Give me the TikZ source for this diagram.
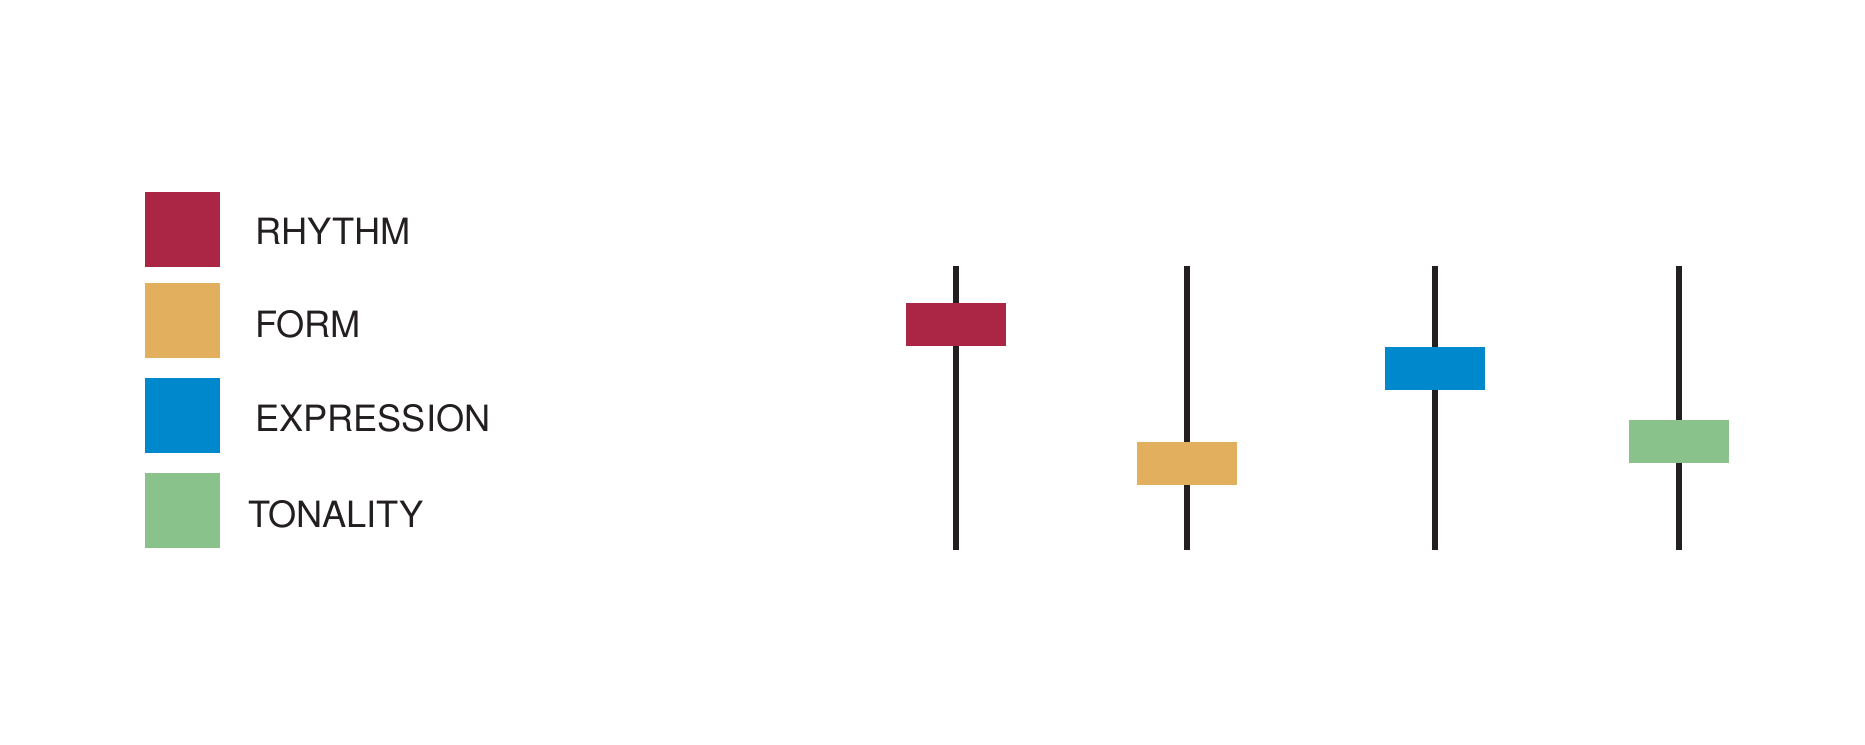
\documentclass[tikz,border=0pt]{standalone}
\usepackage{fontspec}
\setmainfont{TeX Gyre Heros}
\usetikzlibrary{calc}
\definecolor{rhythmred}{RGB}{171,38,69}
\definecolor{formgold}{RGB}{226,175,95}
\definecolor{exprblue}{RGB}{0,136,204}
\definecolor{tonegreen}{RGB}{138,194,140}
\definecolor{ink}{RGB}{35,31,32}

\begin{document}
\begin{tikzpicture}
[x=1pt,y=-1pt,every node/.style={rectangle,inner sep=0pt,outer sep=0pt},
 key/.style={minimum width=75pt,minimum height=75pt},
 knob/.style={minimum width=100pt,minimum height=43pt},
 lbl/.style={anchor=base west,text=ink,font=\fontsize{36.2}{40}\selectfont}]

\useasboundingbox (0,0) rectangle (1865,744);

%legend
\node[key,fill=rhythmred] (kr) at (182.5,229.5) {};
\node[key,fill=formgold] (kf) at (182.5,320.5) {};
\node[key,fill=exprblue] (ke) at (182.5,415) {};
\node[key,fill=tonegreen] (kt) at (182.5,510.5) {};

\node[lbl] (lr) at (255,244.5) {RHYTHM};
\node[lbl] (lf) at (255,337) {FORM};
\node[lbl] (le) at (255,431) {EXPRESSION};
\node[lbl] (lt) at (248,527) {TONALITY};

%sliders
\foreach \n/\x in {r/955.5,f/1187,e/1435,t/1679}{
\coordinate (top\n) at (\x,266);
\coordinate (bot\n) at (\x,550);
}

\foreach \n in {r,f,e,t}
\draw [line width=6pt,ink] (top\n) -- (bot\n);

\node[knob,fill=rhythmred] (sr) at (955.5,324.5) {};
\node[knob,fill=formgold] (sf) at (1187,463) {};
\node[knob,fill=exprblue] (se) at (1435,368) {};
\node[knob,fill=tonegreen] (st) at (1679,441) {};

\end{tikzpicture}
\end{document}
